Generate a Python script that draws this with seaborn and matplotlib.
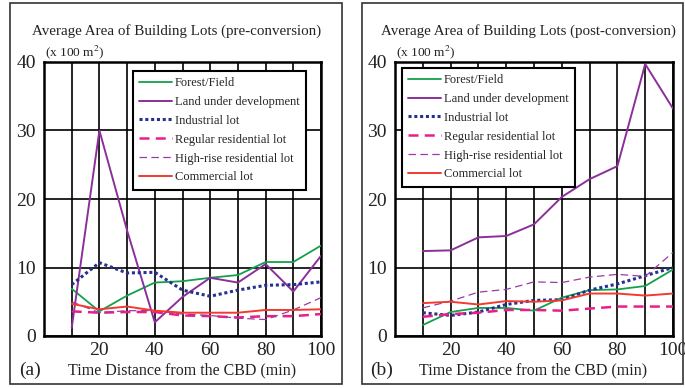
import numpy as np
import pandas as pd
import matplotlib
matplotlib.use("Agg")
import matplotlib.pyplot as plt
from matplotlib.patches import Rectangle
import seaborn as sns

# Time distance from the CBD (min)
distance = [10, 20, 30, 40, 50, 60, 70, 80, 90, 100]

series_names = ["Forest/Field", "Land under development", "Industrial lot",
                "Regular residential lot", "High-rise residential lot", "Commercial lot"]

# Average lot area (x 100 m^2) before conversion
pre_forest = [6.9, 3.6, 5.9, 7.8, 8.0, 8.5, 8.9, 10.8, 10.8, 13.2]
pre_devel = [1.2, 30.0, 15.4, 2.0, 5.7, 8.5, 7.8, 10.5, 6.5, 11.7]
pre_industrial = [7.5, 10.7, 9.2, 9.3, 6.7, 5.8, 6.7, 7.4, 7.5, 7.9]
pre_regular = [3.6, 3.4, 3.5, 3.5, 3.0, 2.9, 2.7, 2.9, 2.9, 3.2]
pre_highrise = [5.0, 3.4, 3.7, 3.7, 3.2, 3.0, 2.6, 2.4, 3.8, 5.6]
pre_commercial = [4.7, 3.9, 4.3, 3.7, 3.4, 3.4, 3.4, 3.8, 3.8, 3.9]

# Average lot area (x 100 m^2) after conversion
post_forest = [1.6, 3.5, 4.1, 4.1, 3.7, 5.6, 6.7, 6.8, 7.3, 9.7]
post_devel = [12.4, 12.5, 14.4, 14.6, 16.3, 20.3, 22.9, 24.8, 39.7, 33.2]
post_industrial = [3.4, 3.0, 3.5, 4.6, 5.2, 5.3, 6.7, 7.6, 8.8, 10.0]
post_regular = [2.8, 3.2, 3.4, 3.8, 3.8, 3.7, 4.0, 4.3, 4.3, 4.3]
post_highrise = [4.1, 5.1, 6.4, 6.8, 7.9, 7.8, 8.6, 9.0, 8.7, 12.2]
post_commercial = [4.8, 5.0, 4.6, 5.1, 5.0, 5.2, 6.2, 6.2, 5.9, 6.2]

x_tick_labels = ["", "", "20", "", "40", "", "60", "", "80", "", "100"]
y_ticks = [0, 10, 20, 30, 40]

styles = {
    "Forest/Field": dict(color="#14a04c", lw=1.3, ls="-"),
    "Land under development": dict(color="#8c2f9a", lw=1.4, ls="-"),
    "Industrial lot": dict(color="#26318f", lw=2.2, ls=(0, (1, 0.9))),
    "Regular residential lot": dict(color="#ea1e8a", lw=1.8, ls=(0, (4, 2.5))),
    "High-rise residential lot": dict(color="#9a3aa5", lw=0.9, ls=(0, (6, 3.5))),
    "Commercial lot": dict(color="#f23a30", lw=1.4, ls="-"),
}

sns.set_theme(style="white")
plt.rcParams["font.family"] = ["Liberation Serif", "DejaVu Serif"]
plt.rcParams["mathtext.fontset"] = "stix"

fig = plt.figure(figsize=(6.85, 3.88), dpi=100)
W, H = 685, 388


def px_rect(x0, y0, x1, y1):
    return [x0 / W, 1 - y1 / H, (x1 - x0) / W, (y1 - y0) / H]


panels = [
    dict(rect=px_rect(44, 62, 321, 336), frame=(10, 3, 342, 384),
         title="Average Area of Building Lots (pre-conversion)", tag="(a)",
         values=[pre_forest, pre_devel, pre_industrial, pre_regular, pre_highrise, pre_commercial],
         legend_anchor=(0.322, 0.968)),
    dict(rect=px_rect(395, 62, 673, 336), frame=(362, 3, 683, 384),
         title="Average Area of Building Lots (post-conversion)", tag="(b)",
         values=[post_forest, post_devel, post_industrial, post_regular, post_highrise, post_commercial],
         legend_anchor=(0.026, 0.979)),
]

for p in panels:
    fx0, fy0, fx1, fy1 = p["frame"]
    fig.patches.append(Rectangle((fx0 / W, 1 - fy1 / H), (fx1 - fx0) / W, (fy1 - fy0) / H,
                                 transform=fig.transFigure, fill=False,
                                 edgecolor="#333333", lw=1.2))
    ax = fig.add_axes(p["rect"])
    df = pd.DataFrame({
        "distance": np.tile(distance, len(series_names)),
        "area": np.concatenate(p["values"]),
        "kind": np.repeat(series_names, len(distance)),
    })
    for name in series_names:
        st = styles[name]
        sns.lineplot(data=df[df["kind"] == name], x="distance", y="area", ax=ax,
                     color=st["color"], linewidth=st["lw"], linestyle=st["ls"],
                     label=name, zorder=3)
    ax.set_xlim(0, 100)
    ax.set_ylim(0, 40)
    ax.set_xticks(np.arange(0, 101, 10))
    ax.set_xticklabels(x_tick_labels)
    ax.set_yticks(y_ticks)
    ax.tick_params(axis="both", length=0, labelsize=14, pad=4, colors="#222222")
    ax.tick_params(axis="y", pad=6)
    ax.grid(True, color="black", lw=1.2, zorder=1)
    ax.set_axisbelow(True)
    for s in ax.spines.values():
        s.set_color("black")
        s.set_linewidth(1.8)
    ax.set_xlabel("")
    ax.set_ylabel("")
    leg = ax.legend(loc="upper left", bbox_to_anchor=p["legend_anchor"], borderaxespad=0,
                    fontsize=9, handlelength=2.6, handletextpad=0.25, labelspacing=0.55,
                    borderpad=0.5, fancybox=False, framealpha=1)
    leg.get_frame().set_edgecolor("black")
    leg.get_frame().set_linewidth(1.5)
    leg.set_zorder(5)

    x0 = p["rect"][0]
    xc = x0 + p["rect"][2] / 2
    fig.text(xc - 0.008, 1 - 31 / H, p["title"], ha="center", va="center", fontsize=10.8,
             color="#222222")
    fig.text(x0 + 0.002, 1 - 52 / H, r"(x 100 m$^2$)", ha="left", va="center", fontsize=9.6,
             color="#222222")
    fig.text(xc - 0.001, 1 - 370 / H, "Time Distance from the CBD (min)", ha="center",
             va="center", fontsize=11.5, color="#222222")
    fig.text(x0 - 0.036, 1 - 370 / H, p["tag"], ha="left", va="center", fontsize=14,
             color="#222222")

fig.savefig("out.png", dpi=100)
